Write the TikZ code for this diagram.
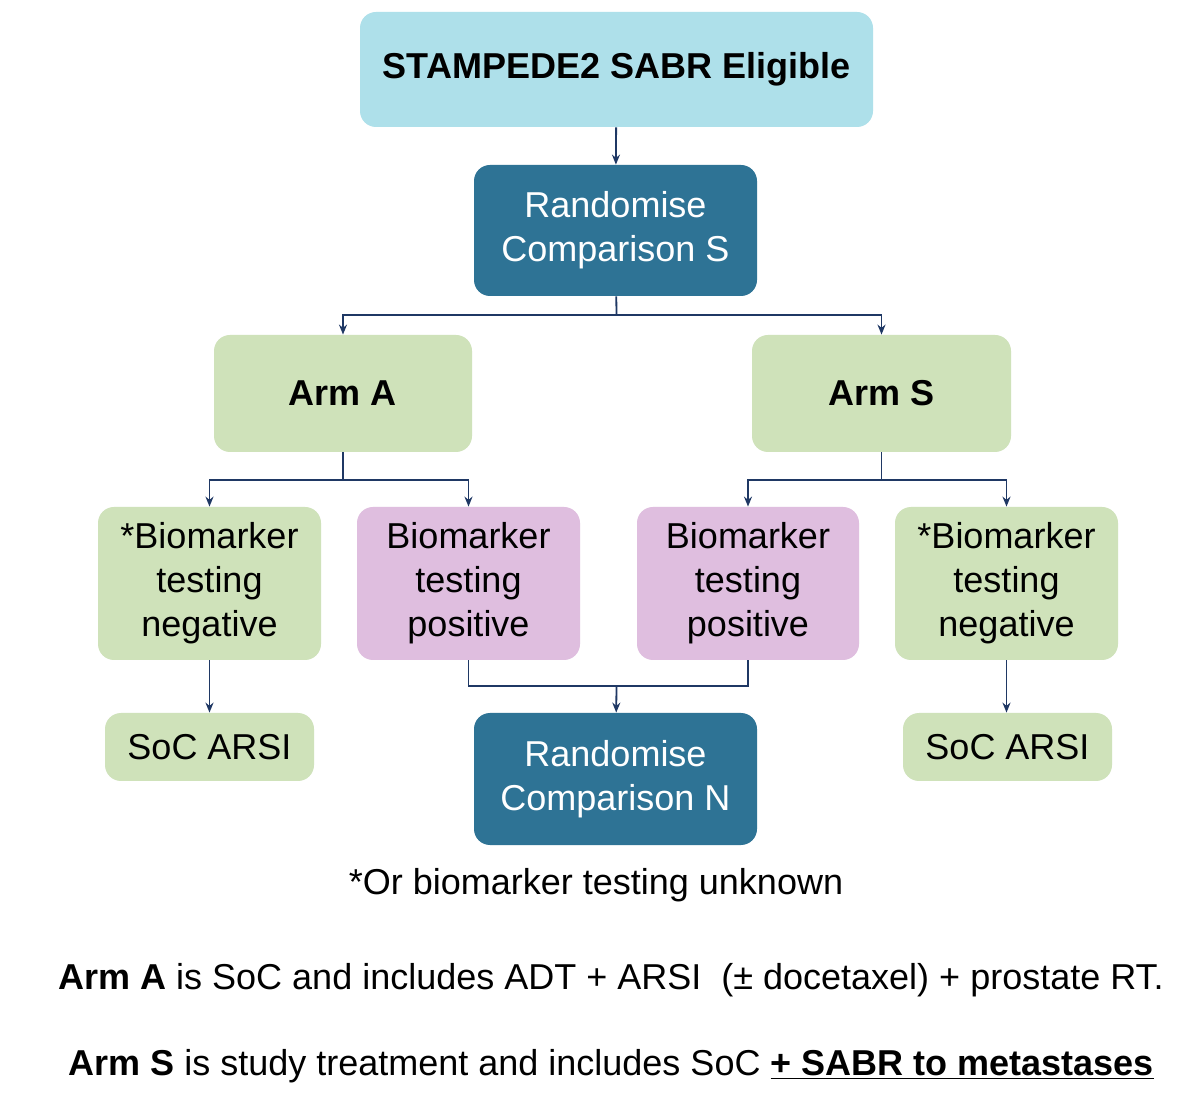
\documentclass[tikz,border=0pt]{standalone}
\usepackage{fontspec}
\setmainfont{Liberation Sans}
\usetikzlibrary{arrows.meta}
\definecolor{lblue}{HTML}{AEE0EA}
\definecolor{teal}{HTML}{2E7395}
\definecolor{lgreen}{HTML}{CFE2BA}
\definecolor{lpurple}{HTML}{DFBEDF}
\definecolor{navy}{HTML}{1F3864}
\begin{document}
\begin{tikzpicture}[x=0.5pt,y=-0.5pt,
 box/.style={rounded corners=8pt,inner sep=0pt,align=center,font=\fontsize{18}{22}\selectfont},
 arr/.style={draw=navy,line width=0.9pt,-{Stealth[length=5pt,width=4pt]}},
 ln/.style={draw=navy,line width=0.9pt},
 txt/.style={font=\fontsize{18}{20}\selectfont}]
\useasboundingbox (0,0) rectangle (1200,1106);
\fill[white] (0,0) rectangle (1200,1106);
\newcommand\bx[7]{\node[box,fill=#6,text=#7,minimum width=#3*0.5pt,minimum height=#4*0.5pt] (#1) at (#2) {#5};}
\bx{top}{616.5,69.5}{513}{115}{\textbf{STAMPEDE2 SABR Eligible}}{lblue}{black}
\bx{rs}{615.5,230.5}{283}{131}{Randomise\\Comparison S}{teal}{white}
\bx{aa}{343,393.5}{258}{117}{\textbf{Arm A}}{lgreen}{black}
\bx{as}{881.5,393.5}{259}{117}{\textbf{Arm S}}{lgreen}{black}
\bx{n1}{209.5,583.5}{223}{153}{*Biomarker\\testing\\negative}{lgreen}{black}
\bx{p1}{468.5,583.5}{223}{153}{Biomarker\\testing\\positive}{lpurple}{black}
\bx{p2}{748,583.5}{222}{153}{Biomarker\\testing\\positive}{lpurple}{black}
\bx{n2}{1006.5,583.5}{223}{153}{*Biomarker\\testing\\negative}{lgreen}{black}
\bx{s1}{209.5,747}{209}{68}{SoC ARSI}{lgreen}{black}
\bx{s2}{1007.5,747}{209}{68}{SoC ARSI}{lgreen}{black}
\bx{rn}{615.5,779}{283}{132}{Randomise\\Comparison N}{teal}{white}
\coordinate (j1) at (616.5,315);
\coordinate (j2) at (343,480);
\coordinate (j3) at (881.5,480);
\coordinate (j4) at (616.5,686);
\draw[arr] (top) -- (rs);
\draw[ln] (rs) -- (j1);
\draw[arr] (j1) -| (aa);
\draw[arr] (j1) -| (as);
\draw[ln] (aa) -- (j2);
\draw[arr] (j2) -| (n1);
\draw[arr] (j2) -| (p1);
\draw[ln] (as) -- (j3);
\draw[arr] (j3) -| (p2);
\draw[arr] (j3) -| (n2);
\draw[arr] (n1) -- (s1);
\draw[arr] (n2.south) -- (n2.south |- s2.north);
\draw[ln] (p1.south) |- (j4) -| (p2.south);
\draw[arr] (j4) -- (rn);
\node[txt] (fn) at (596,885) {*Or biomarker testing unknown};
\node[txt] (la) at (611,980) {\textbf{Arm A} is SoC and includes ADT + ARSI\ \ (± docetaxel) + prostate RT.};
\node[txt] (ls) at (611,1066) {\textbf{Arm S} is study treatment and includes SoC \underline{\textbf{+ SABR to metastases}}};
\end{tikzpicture}
\end{document}
